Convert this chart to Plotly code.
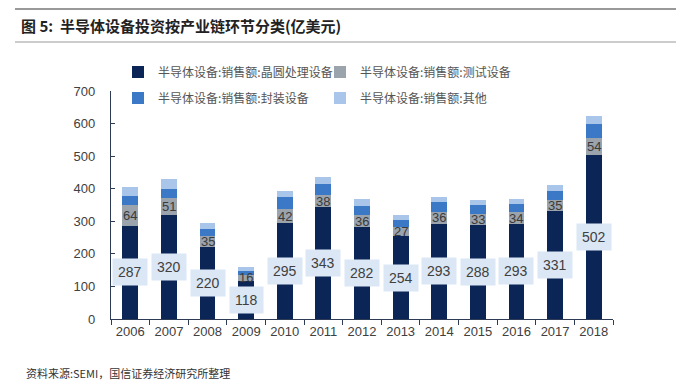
import plotly.graph_objects as go

years = ["2006", "2007", "2008", "2009", "2010", "2011", "2012", "2013", "2014", "2015", "2016", "2017", "2018"]
wafer = [287, 320, 220, 118, 295, 343, 282, 254, 293, 288, 293, 331, 502]
test = [64, 51, 35, 16, 42, 38, 36, 27, 36, 33, 34, 35, 54]
packaging = [26, 28, 20, 14, 39, 33, 30, 23, 29, 30, 25, 26, 42]
other = [27, 30, 21, 11, 18, 23, 21, 14, 18, 14, 17, 18, 25]

names = ["半导体设备:销售额:晶圆处理设备", "半导体设备:销售额:测试设备",
         "半导体设备:销售额:封装设备", "半导体设备:销售额:其他"]
colors = ["#0c2557", "#9ba3ad", "#3b78c6", "#a9c5e9"]

title_text = "图 5:  半导体设备投资按产业链环节分类(亿美元)"
source_text = "资料来源:SEMI，国信证券经济研究所整理"

CJK = "Noto Sans CJK SC"
NUM = "Liberation Sans, Arial"

fig = go.Figure()
series = [wafer, test, packaging, other]
legends = ["legend", "legend", "legend2", "legend2"]
for vals, nm, col, lg in zip(series, names, colors, legends):
    fig.add_trace(go.Bar(x=years, y=vals, name=nm, marker=dict(color=col, line=dict(width=0)),
                         legend=lg, hoverinfo="y+name"))

# wafer value labels with light boxes
for idx, v in enumerate(wafer):
    fig.add_annotation(x=idx, y=v / 2, xref="x", yref="y", text=str(v), showarrow=False,
                       font=dict(family=NUM, size=14, color="#404040"),
                       bgcolor="#dce7f5", borderpad=5)
# test value labels
for idx, (w, t) in enumerate(zip(wafer, test)):
    fig.add_annotation(x=idx, y=w + t / 2, xref="x", yref="y", text=str(t), showarrow=False,
                       font=dict(family=NUM, size=13, color="#3a3a3a"), borderpad=0)

# page body has an 8px default margin: figure coordinates = screen - 8
OFF = 8
W, H = 684 - 2 * OFF, 390 - 2 * OFF
L, T = 111 - OFF, 91 - OFF
RIGHT, BOTTOM = 613 - OFF, 319 - OFF
R, B = W - RIGHT, H - BOTTOM
pw, ph = W - L - R, H - T - B

def px(x):
    return (x - OFF - L) / pw

def py(y):
    return (H - B - (y - OFF)) / ph

fig.add_shape(type="line", xref="paper", yref="paper", x0=px(15), x1=px(684), y0=py(9), y1=py(9),
              line=dict(color="#777777", width=1.5))
fig.add_shape(type="line", xref="paper", yref="paper", x0=px(15), x1=px(684), y0=py(42), y1=py(42),
              line=dict(color="#999999", width=1.2))
fig.add_annotation(xref="paper", yref="paper", x=px(19), y=py(25), xanchor="left", yanchor="middle",
                   text="<b>" + title_text + "</b>", showarrow=False,
                   font=dict(family=CJK, size=15, color="#222222"))
fig.add_annotation(xref="paper", yref="paper", x=px(24), y=py(373), xanchor="left", yanchor="middle",
                   text=source_text, showarrow=False,
                   font=dict(family=CJK, size=11, color="#333333"))

legend_common = dict(orientation="h", xanchor="left", yanchor="middle", bgcolor="rgba(0,0,0,0)",
                     font=dict(family=CJK, size=12, color="#555555"),
                     entrywidth=157, entrywidthmode="pixels", itemwidth=30, traceorder="normal",
                     itemclick=False, itemdoubleclick=False)

fig.update_layout(
    width=W, height=H,
    margin=dict(l=L, r=R, t=T, b=B, autoexpand=False),
    paper_bgcolor="white", plot_bgcolor="white",
    barmode="stack", bargap=0.59,
    showlegend=True,
    legend=dict(x=px(118), y=py(72), **legend_common),
    legend2=dict(x=px(118), y=py(98), **legend_common),
    xaxis=dict(type="category", range=[-0.5, len(years) - 0.5], showline=True,
               linecolor="#2e3b55", linewidth=1.2,
               ticks="outside", tickson="boundaries", ticklen=5, tickcolor="#2e3b55",
               tickfont=dict(family=NUM, size=13, color="#404040"), showgrid=False),
    yaxis=dict(range=[0, 700], dtick=100, showline=True, linecolor="#2e3b55", linewidth=1.2,
               ticks="inside", ticklen=4, tickcolor="#2e3b55", showgrid=False, zeroline=False,
               ticklabelstandoff=12,
               tickfont=dict(family=NUM, size=13, color="#404040")),
    font=dict(family=NUM),
)

fig.write_html("out.html")
